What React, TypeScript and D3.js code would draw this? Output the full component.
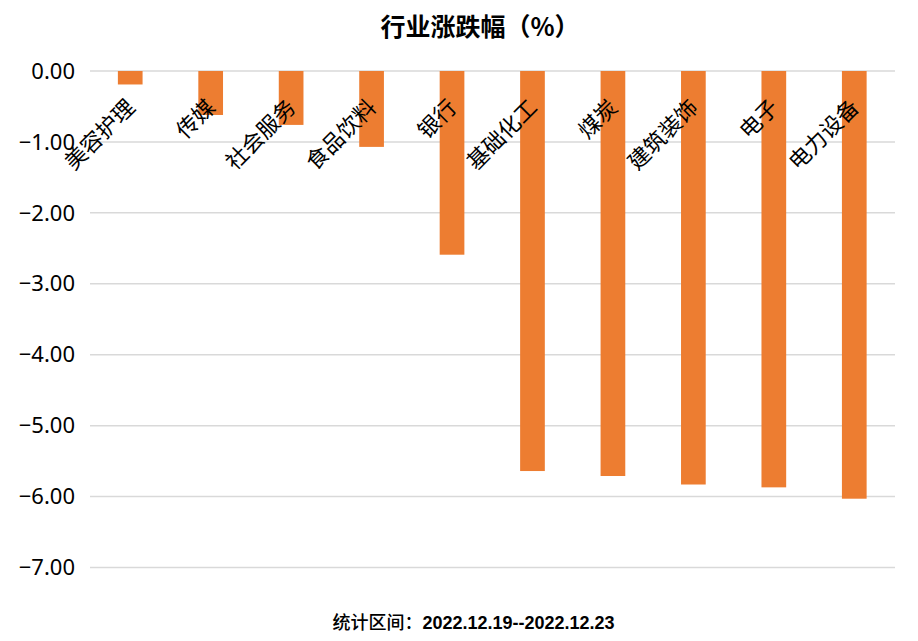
import React from "react";
import * as d3 from "d3";

const categories = ["美容护理", "传媒", "社会服务", "食品饮料", "银行", "基础化工", "煤炭", "建筑装饰", "电子", "电力设备"];
const values = [-0.19, -0.62, -0.76, -1.07, -2.59, -5.64, -5.71, -5.83, -5.87, -6.03];
const yTicks = [0, -1, -2, -3, -4, -5, -6, -7];
const title = "行业涨跌幅（%）";
const footerLabel = "统计区间：";
const footerRange = "2022.12.19--2022.12.23";

const W = 918;
const H = 641;

export default function App() {
  const x = d3
    .scaleBand<string>()
    .domain(categories)
    .range([90, 894.5])
    .paddingInner(0.693)
    .paddingOuter(0.3465);
  const y = d3.scaleLinear().domain([-7, 0]).range([567.5, 71]);
  const cjk = "'Noto Sans CJK SC', 'Noto Sans', sans-serif";

  return (
    <svg
      width={W}
      height={H}
      viewBox={`0 0 ${W} ${H}`}
      style={{ position: "absolute", left: 0, top: 0, background: "#fff" }}
    >
      <rect x={0} y={0} width={W} height={H} fill="#fff" />
      <text
        x={480}
        y={36}
        textAnchor="middle"
        fontFamily={cjk}
        fontWeight="bold"
        fontSize={25}
        fill="#000"
      >
        {title}
      </text>
      {yTicks.map((t) => (
        <g key={t}>
          <line x1={90} x2={895} y1={y(t)} y2={y(t)} stroke="#d9d9d9" strokeWidth={1.5} />
          <text
            x={75}
            y={y(t)}
            dy="0.35em"
            textAnchor="end"
            fontFamily="'Noto Sans', 'Open Sans', sans-serif"
            fontSize={22}
            fill="#000"
          >
            {d3.format(".2f")(t)}
          </text>
        </g>
      ))}
      {categories.map((c, i) => {
        const v = values[i];
        return (
          <rect
            key={c}
            x={x(c)}
            y={y(Math.max(0, v))}
            width={x.bandwidth()}
            height={Math.abs(y(v) - y(0))}
            fill="#ED7D31"
          />
        );
      })}
      {categories.map((c) => {
        const cx = (x(c) as number) + x.bandwidth() / 2;
        return (
          <text
            key={"l" + c}
            transform={`translate(${cx + 6},${109}) rotate(-45)`}
            textAnchor="end"
            fontFamily={cjk}
            fontWeight={400}
            fontSize={22}
            fill="#000"
          >
            {c}
          </text>
        );
      })}
      <text x={473.5} y={629} textAnchor="middle" fontSize={18} fill="#000">
        <tspan fontFamily={cjk} fontWeight={500}>
          {footerLabel}
        </tspan>
        <tspan fontFamily="'Liberation Sans', Arial, sans-serif" fontWeight="bold">
          {footerRange}
        </tspan>
      </text>
    </svg>
  );
}
